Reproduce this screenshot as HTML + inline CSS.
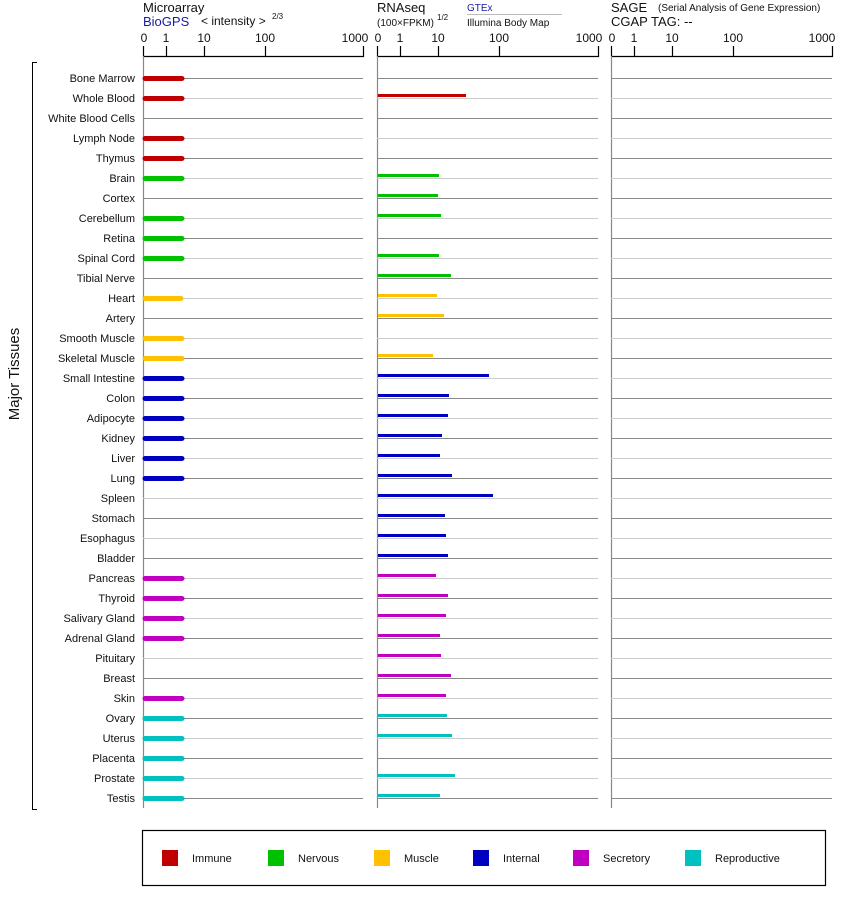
<!DOCTYPE html>
<html><head><meta charset="utf-8"><style>
html,body{margin:0;padding:0;background:#fff}
svg{display:block;font-family:"Liberation Sans",Arial,sans-serif}
</style></head><body>
<svg width="842" height="900" viewBox="0 0 842 900" xmlns="http://www.w3.org/2000/svg">
<!-- headers -->
<g font-size="13" fill="#111">
<text x="143" y="12">Microarray</text>
<text x="143" y="26" fill="#1a1aa6">BioGPS</text>
<text x="201" y="25" font-size="12">&lt; intensity &gt;</text>
<text x="272" y="19" font-size="8">2/3</text>
<text x="377" y="12">RNAseq</text>
<text x="377" y="26" font-size="10">(100×FPKM)</text>
<text x="437" y="20" font-size="8">1/2</text>
<text x="467" y="11" font-size="10" fill="#1a1aa6">GTEx</text>
<line x1="467" y1="14.5" x2="562" y2="14.5" stroke="#bbb"/>
<text x="467" y="26" font-size="10">Illumina Body Map</text>
<text x="611" y="12">SAGE</text>
<text x="658" y="11" font-size="10">(Serial Analysis of Gene Expression)</text>
<text x="611" y="26">CGAP TAG:  --</text>
</g>
<!-- axes -->
<g stroke="#000" stroke-width="1.2" fill="none">
<path d="M143.5 46V56.5H363.5V46M166.5 46V56M204.5 46V56M265.5 46V56"/>
<path d="M377.5 46V56.5H598.5V46M400.5 46V56M438.5 46V56M499.5 46V56"/>
<path d="M611.5 46V56.5H832.5V46M634.5 46V56M672.5 46V56M733.5 46V56"/>
</g>
<g font-size="12" fill="#111" text-anchor="middle">
<text x="144" y="42">0</text><text x="166" y="42">1</text><text x="204" y="42">10</text><text x="265" y="42">100</text><text x="355" y="42">1000</text>
<text x="378" y="42">0</text><text x="400" y="42">1</text><text x="438" y="42">10</text><text x="499" y="42">100</text><text x="589" y="42">1000</text>
<text x="612" y="42">0</text><text x="634" y="42">1</text><text x="672" y="42">10</text><text x="733" y="42">100</text><text x="822" y="42">1000</text>
</g>
<g stroke="#888" stroke-width="1.2">
<line x1="143.5" y1="56" x2="143.5" y2="808"/>
<line x1="377.5" y1="56" x2="377.5" y2="808"/>
<line x1="611.5" y1="56" x2="611.5" y2="808"/>
</g>
<!-- row lines -->
<g stroke-width="1">
<g stroke="#888">
<path d="M143 78.5H363M377 78.5H598M611 78.5H832"/>
<path d="M143 118.5H363M377 118.5H598M611 118.5H832"/>
<path d="M143 158.5H363M377 158.5H598M611 158.5H832"/>
<path d="M143 198.5H363M377 198.5H598M611 198.5H832"/>
<path d="M143 238.5H363M377 238.5H598M611 238.5H832"/>
<path d="M143 278.5H363M377 278.5H598M611 278.5H832"/>
<path d="M143 318.5H363M377 318.5H598M611 318.5H832"/>
<path d="M143 358.5H363M377 358.5H598M611 358.5H832"/>
<path d="M143 398.5H363M377 398.5H598M611 398.5H832"/>
<path d="M143 438.5H363M377 438.5H598M611 438.5H832"/>
<path d="M143 478.5H363M377 478.5H598M611 478.5H832"/>
<path d="M143 518.5H363M377 518.5H598M611 518.5H832"/>
<path d="M143 558.5H363M377 558.5H598M611 558.5H832"/>
<path d="M143 598.5H363M377 598.5H598M611 598.5H832"/>
<path d="M143 638.5H363M377 638.5H598M611 638.5H832"/>
<path d="M143 678.5H363M377 678.5H598M611 678.5H832"/>
<path d="M143 718.5H363M377 718.5H598M611 718.5H832"/>
<path d="M143 758.5H363M377 758.5H598M611 758.5H832"/>
<path d="M143 798.5H363M377 798.5H598M611 798.5H832"/>
</g>
<g stroke="#ccc">
<path d="M143 98.5H363M377 98.5H598M611 98.5H832"/>
<path d="M143 138.5H363M377 138.5H598M611 138.5H832"/>
<path d="M143 178.5H363M377 178.5H598M611 178.5H832"/>
<path d="M143 218.5H363M377 218.5H598M611 218.5H832"/>
<path d="M143 258.5H363M377 258.5H598M611 258.5H832"/>
<path d="M143 298.5H363M377 298.5H598M611 298.5H832"/>
<path d="M143 338.5H363M377 338.5H598M611 338.5H832"/>
<path d="M143 378.5H363M377 378.5H598M611 378.5H832"/>
<path d="M143 418.5H363M377 418.5H598M611 418.5H832"/>
<path d="M143 458.5H363M377 458.5H598M611 458.5H832"/>
<path d="M143 498.5H363M377 498.5H598M611 498.5H832"/>
<path d="M143 538.5H363M377 538.5H598M611 538.5H832"/>
<path d="M143 578.5H363M377 578.5H598M611 578.5H832"/>
<path d="M143 618.5H363M377 618.5H598M611 618.5H832"/>
<path d="M143 658.5H363M377 658.5H598M611 658.5H832"/>
<path d="M143 698.5H363M377 698.5H598M611 698.5H832"/>
<path d="M143 738.5H363M377 738.5H598M611 738.5H832"/>
<path d="M143 778.5H363M377 778.5H598M611 778.5H832"/>
</g>
</g>
<!-- labels -->
<g font-size="11" fill="#111" text-anchor="end">
<text x="135" y="82">Bone Marrow</text>
<text x="135" y="102">Whole Blood</text>
<text x="135" y="122">White Blood Cells</text>
<text x="135" y="142">Lymph Node</text>
<text x="135" y="162">Thymus</text>
<text x="135" y="182">Brain</text>
<text x="135" y="202">Cortex</text>
<text x="135" y="222">Cerebellum</text>
<text x="135" y="242">Retina</text>
<text x="135" y="262">Spinal Cord</text>
<text x="135" y="282">Tibial Nerve</text>
<text x="135" y="302">Heart</text>
<text x="135" y="322">Artery</text>
<text x="135" y="342">Smooth Muscle</text>
<text x="135" y="362">Skeletal Muscle</text>
<text x="135" y="382">Small Intestine</text>
<text x="135" y="402">Colon</text>
<text x="135" y="422">Adipocyte</text>
<text x="135" y="442">Kidney</text>
<text x="135" y="462">Liver</text>
<text x="135" y="482">Lung</text>
<text x="135" y="502">Spleen</text>
<text x="135" y="522">Stomach</text>
<text x="135" y="542">Esophagus</text>
<text x="135" y="562">Bladder</text>
<text x="135" y="582">Pancreas</text>
<text x="135" y="602">Thyroid</text>
<text x="135" y="622">Salivary Gland</text>
<text x="135" y="642">Adrenal Gland</text>
<text x="135" y="662">Pituitary</text>
<text x="135" y="682">Breast</text>
<text x="135" y="702">Skin</text>
<text x="135" y="722">Ovary</text>
<text x="135" y="742">Uterus</text>
<text x="135" y="762">Placenta</text>
<text x="135" y="782">Prostate</text>
<text x="135" y="802">Testis</text>
</g>
<path d="M37 62.5H32.5V809.5H37" stroke="#000" fill="none"/>
<text transform="translate(19 374) rotate(-90)" font-size="15" text-anchor="middle" fill="#111">Major Tissues</text>
<!-- microarray bars -->
<g stroke-width="5" stroke-linecap="round" fill="none">
<path stroke="#c00000" d="M145 78.5H182M145 98.5H182M145 138.5H182M145 158.5H182"/>
<path stroke="#00c000" d="M145 178.5H182M145 218.5H182M145 238.5H182M145 258.5H182"/>
<path stroke="#ffc000" d="M145 298.5H181M145 338.5H182M145 358.5H182"/>
<path stroke="#0000c0" d="M145 378.5H182M145 398.5H182M145 418.5H182M145 438.5H182M145 458.5H182M145 478.5H182"/>
<path stroke="#c000c0" d="M145 578.5H182M145 598.5H182M145 618.5H182M145 638.5H182M145 698.5H182"/>
<path stroke="#00c0c0" d="M145 718.5H182M145 738.5H182M145 758.5H182M145 778.5H182M145 798.5H182"/>
</g>
<!-- rnaseq bars -->
<g stroke-width="3" fill="none">
<path stroke="#c00000" d="M378 95.5H466"/>
<path stroke="#00c000" d="M378 175.5H439M378 195.5H438M378 215.5H441M378 255.5H439M378 275.5H451"/>
<path stroke="#ffc000" d="M378 295.5H437M378 315.5H444M378 355.5H433"/>
<path stroke="#0000c0" d="M378 375.5H489M378 395.5H449M378 415.5H448M378 435.5H442M378 455.5H440M378 475.5H452M378 495.5H493M378 515.5H445M378 535.5H446M378 555.5H448"/>
<path stroke="#c000c0" d="M378 575.5H436M378 595.5H448M378 615.5H446M378 635.5H440M378 655.5H441M378 675.5H451M378 695.5H446"/>
<path stroke="#00c0c0" d="M378 715.5H447M378 735.5H452M378 775.5H455M378 795.5H440"/>
</g>
<!-- legend -->
<rect x="142.5" y="830.5" width="683" height="55" fill="none" stroke="#000" stroke-width="1.2"/>
<rect x="162" y="850" width="16" height="16" fill="#c00000"/>
<rect x="268" y="850" width="16" height="16" fill="#00c000"/>
<rect x="374" y="850" width="16" height="16" fill="#ffc000"/>
<rect x="473" y="850" width="16" height="16" fill="#0000c0"/>
<rect x="573" y="850" width="16" height="16" fill="#c000c0"/>
<rect x="685" y="850" width="16" height="16" fill="#00c0c0"/>
<g font-size="11" fill="#111">
<text x="192" y="862">Immune</text>
<text x="298" y="862">Nervous</text>
<text x="404" y="862">Muscle</text>
<text x="503" y="862">Internal</text>
<text x="603" y="862">Secretory</text>
<text x="715" y="862">Reproductive</text>
</g>
</svg>
</body></html>
